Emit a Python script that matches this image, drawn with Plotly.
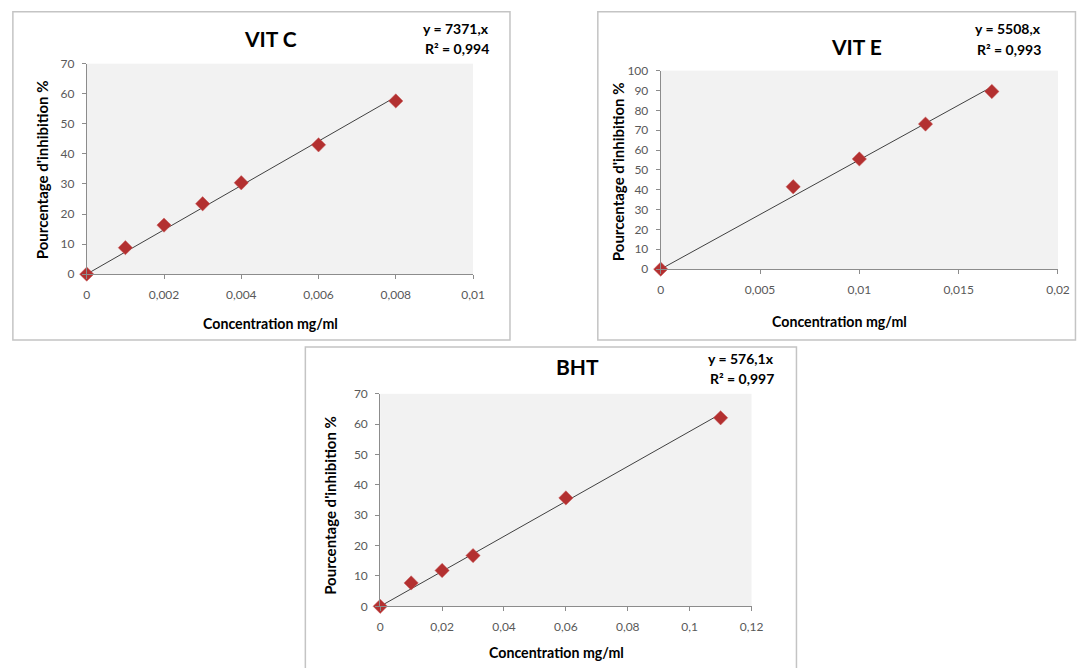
import plotly.graph_objects as go

W, H = 1088, 668

# ---- data ----
vitc_x = [0, 0.001, 0.002, 0.003, 0.004, 0.006, 0.008]
vitc_y = [0, 8.8, 16.3, 23.4, 30.4, 43.0, 57.6]
vite_x = [0, 0.00667, 0.01, 0.01333, 0.01667]
vite_y = [0, 41.5, 55.5, 73.1, 89.5]
bht_x = [0, 0.01, 0.02, 0.03, 0.06, 0.11]
bht_y = [0, 7.7, 11.8, 16.7, 35.7, 62.1]

titles = ["VIT C", "VIT E", "BHT"]
slopes = [7371, 5508, 576.1]
eq_lines = ["y = 7371,x", "y = 5508,x", "y = 576,1x"]
r2_lines = ["R² = 0,994", "R² = 0,993", "R² = 0,997"]
x_ranges = [[0, 0.01], [0, 0.02], [0, 0.12]]
x_dticks = [0.002, 0.005, 0.02]
y_ranges = [[0, 70], [0, 100], [0, 70]]

# map target screenshot pixels to page pixels (empirical correction)
def px(x):
    return ((x - 2.1) / 0.988) / W

def py(y):
    return 1 - ((y - 6.2) / 0.98) / H

# positions in target pixels (left, right, top, bottom)
plots = [(86, 473, 62, 273), (661, 1059, 69, 268), (380, 752, 393, 606)]
frames = [(12, 510, 10, 339), (598, 1076.5, 10, 339), (305, 797, 346, 700)]
title_pos = [(270, 37), (857, 45), (578, 366)]
eq_pos = [(491, 27, 47), (1044, 27, 48), (777, 358, 378)]
xt_pos = [(270, 322), (840, 320), (557, 652)]
yt_pos = [(42, 168), (619, 170), (329, 505)]

FONT = "Lato"
fig = go.Figure()
datasets = [(vitc_x, vitc_y), (vite_x, vite_y), (bht_x, bht_y)]

layout = dict(
    width=W, height=H, margin=dict(l=0, r=0, t=0, b=0),
    paper_bgcolor="white", plot_bgcolor="#f2f2f2",
    showlegend=False, separators=", ",
    font=dict(family=FONT, color="#595959", size=12),
)
annotations = []
shapes = []

def ann(text, x, y, size, xanchor="center", angle=0):
    return dict(text=text, x=px(x), y=py(y), xref="paper", yref="paper",
                showarrow=False, xanchor=xanchor, yanchor="middle", textangle=angle,
                font=dict(family=FONT, size=size, color="black"))

for i, (xs, ys) in enumerate(datasets):
    ax = "" if i == 0 else str(i + 1)
    xa, ya = "x" + ax, "y" + ax
    l, r, t, b = plots[i]
    common = dict(showgrid=False, zeroline=False, showline=True,
                  linecolor="#8c8c8c", linewidth=1, ticks="outside", ticklen=4,
                  tickcolor="#8c8c8c", tickfont=dict(size=12, color="#595959"))
    layout["xaxis" + ax] = dict(domain=[px(l), px(r)], range=x_ranges[i],
                                dtick=x_dticks[i], tick0=0, anchor=ya,
                                ticklabelstandoff=5, **common)
    layout["yaxis" + ax] = dict(domain=[py(b), py(t)], range=y_ranges[i],
                                dtick=10, tick0=0, anchor=xa,
                                ticklabelstandoff=5, **common)
    # trendline through origin
    x_end = xs[-1]
    fig.add_trace(go.Scatter(
        x=[0, x_end], y=[0, slopes[i] * x_end], mode="lines",
        line=dict(color="#404040", width=1), xaxis=xa, yaxis=ya,
        hoverinfo="skip", cliponaxis=False,
    ))
    fig.add_trace(go.Scatter(
        x=xs, y=ys, mode="markers",
        marker=dict(symbol="diamond", size=11, color="#b33030",
                    line=dict(color="#c85a5a", width=0.5)),
        xaxis=xa, yaxis=ya, cliponaxis=False,
    ))
    fl, fr, ft, fb = frames[i]
    shapes.append(dict(type="rect", xref="paper", yref="paper",
                       x0=px(fl), x1=px(fr), y0=py(fb), y1=py(ft),
                       line=dict(color="#c4c4c4", width=1.5), layer="below"))
    tx, ty = title_pos[i]
    annotations.append(ann("<b>%s</b>" % titles[i], tx, ty, 21))
    ex, ey1, ey2 = eq_pos[i]
    annotations.append(ann("<b>%s</b>" % eq_lines[i], ex, ey1, 14, xanchor="right"))
    annotations.append(ann("<b>%s</b>" % r2_lines[i], ex, ey2, 14, xanchor="right"))
    xx, xy = xt_pos[i]
    annotations.append(ann("<b>Concentration mg/ml</b>", xx, xy, 14.2))
    yx, yy = yt_pos[i]
    annotations.append(ann("<b>Pourcentage d'inhibition %</b>", yx, yy, 15, angle=-90))

layout["annotations"] = annotations
layout["shapes"] = shapes
fig.update_layout(**layout)
fig.write_html(
    "out.html",
    config={"displayModeBar": False},
    post_script="document.body.style.margin='0';document.body.style.padding='0';"
                "document.body.style.overflow='hidden';",
)
